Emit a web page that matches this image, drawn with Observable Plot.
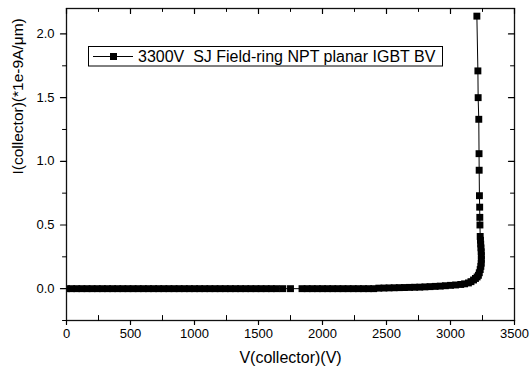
<!DOCTYPE html>
<html><head><meta charset="utf-8">
<script src="https://cdn.jsdelivr.net/npm/d3@7"></script>
<script src="https://cdn.jsdelivr.net/npm/@observablehq/plot@0.6"></script>
<style>body{margin:0;background:#fff} #chart{width:530px;height:372px}</style>
</head><body><div id="chart"></div>
<script>
const vCollector = [
  0, 40, 80, 120, 160, 200, 240, 280, 320, 360, 400, 440, 480, 520, 560, 600, 640, 680, 720, 760,
  800, 840, 880, 920, 960, 1000, 1040, 1080, 1120, 1160, 1200, 1240, 1280, 1320, 1360, 1400, 1440, 1480, 1520, 1560,
  1600, 1640, 1690, 1750, 1840, 1880, 1920, 1960, 2000, 2040, 2080, 2120, 2160, 2200, 2240, 2280, 2320, 2360, 2400,
  2440, 2480, 2520, 2560, 2600, 2640, 2680, 2720, 2760, 2800, 2840, 2880, 2920, 2960, 3000, 3040, 3080,
  3110, 3140, 3160, 3180, 3195, 3208, 3218,
  3225, 3232, 3237, 3240, 3241, 3241, 3240, 3238, 3236, 3234, 3232,
  3230, 3229, 3228, 3226, 3224, 3223, 3221, 3216, 3214, 3206
];
const iCollector = [
  0, 0, 0, 0, 0, 0, 0, 0, 0, 0, 0, 0, 0, 0, 0, 0, 0, 0, 0, 0,
  0, 0, 0, 0, 0, 0, 0, 0, 0, 0, 0, 0, 0, 0, 0, 0, 0, 0, 0, 0,
  0, 0, 0, 0, 0, 0, 0, 0, 0, 0, 0, 0, 0, 0, 0, 0, 0, 0, 0,
  0.004, 0.005, 0.006, 0.007, 0.008, 0.009, 0.010, 0.011, 0.012, 0.014, 0.016, 0.018, 0.020, 0.023, 0.026, 0.029, 0.033,
  0.038, 0.045, 0.055, 0.068, 0.080, 0.092, 0.105,
  0.125, 0.15, 0.175, 0.20, 0.23, 0.26, 0.29, 0.32, 0.35, 0.38, 0.41,
  0.50, 0.56, 0.64, 0.73, 0.93, 1.06, 1.33, 1.50, 1.71, 2.14
];
const xMajorTicks = [0, 500, 1000, 1500, 2000, 2500, 3000, 3500];
const xMinorTicks = [250, 750, 1250, 1750, 2250, 2750, 3250];
const yMajorTicks = [0, 0.5, 1.0, 1.5, 2.0];
const yMinorTicks = [-0.25, 0.25, 0.75, 1.25, 1.75];
const seriesName = "3300V  SJ Field-ring NPT planar IGBT BV";
const xLabel = "V(collector)(V)";
const yLabel = "I(collector)(*1e-9A/\u03bcm)";

const data = vCollector.map((v, k) => ({v, i: iCollector[k]}));
const font = "'Liberation Sans', Arial, sans-serif";
const tick = {draw(context, l) { context.moveTo(0, 0); context.lineTo(0, -l); }};

const chart = Plot.plot({
  width: 530, height: 372,
  marginTop: 8, marginRight: 16, marginBottom: 52, marginLeft: 66,
  style: {fontFamily: font, fontSize: "13px", color: "#000", background: "#fff"},
  x: {domain: [0, 3500], axis: null},
  y: {domain: [-0.25, 2.2], axis: null},
  marks: [
    Plot.line(data, {x: "v", y: "i", stroke: "#000", strokeWidth: 1, clip: true}),
    Plot.dot(data, {x: "v", y: "i", symbol: "square", r: 3.9, fill: "#000", stroke: "none", clip: true}),
    Plot.frame({stroke: "#111", strokeWidth: 1.3}),
    // bottom axis
    Plot.vector(xMajorTicks, {x: d => d, frameAnchor: "bottom", length: 4, rotate: 180, anchor: "start", shape: tick, stroke: "#000", strokeWidth: 1.2}),
    Plot.vector(xMinorTicks, {x: d => d, frameAnchor: "bottom", length: 5, rotate: 0, anchor: "start", shape: tick, stroke: "#000", strokeWidth: 1}),
    Plot.text(xMajorTicks, {x: d => d, text: d => String(d), frameAnchor: "bottom", dy: 17, fontSize: 13, fill: "#000"}),
    // top mirror
    Plot.vector(xMajorTicks, {x: d => d, frameAnchor: "top", length: 5, rotate: 180, anchor: "start", shape: tick, stroke: "#000", strokeWidth: 1.2}),
    Plot.vector(xMinorTicks, {x: d => d, frameAnchor: "top", length: 3, rotate: 180, anchor: "start", shape: tick, stroke: "#000", strokeWidth: 1}),
    // left axis
    Plot.vector(yMajorTicks, {y: d => d, frameAnchor: "left", length: 6, rotate: -90, anchor: "start", shape: tick, stroke: "#000", strokeWidth: 1.2}),
    Plot.vector(yMinorTicks, {y: d => d, frameAnchor: "left", length: 4, rotate: -90, anchor: "start", shape: tick, stroke: "#000", strokeWidth: 1}),
    Plot.text(yMajorTicks, {y: d => d, text: d => d.toFixed(1), frameAnchor: "left", dx: -12, textAnchor: "end", fontSize: 13, fill: "#000"}),
    // right mirror
    Plot.vector(yMajorTicks, {y: d => d, frameAnchor: "right", length: 6, rotate: -90, anchor: "start", shape: tick, stroke: "#000", strokeWidth: 1.2}),
    Plot.vector(yMinorTicks, {y: d => d, frameAnchor: "right", length: 4, rotate: -90, anchor: "start", shape: tick, stroke: "#000", strokeWidth: 1}),
    // axis titles
    Plot.text([xLabel], {text: d => d, frameAnchor: "bottom", dy: 42, fontSize: 16, fill: "#000"}),
    Plot.text([yLabel], {text: d => d, frameAnchor: "left", rotate: -90, dx: -48, dy: 10, fontSize: 15.5, fill: "#000"})
  ]
});

// legend box
const svg = d3.select(chart);
const g = svg.append("g").attr("font-family", font).attr("text-anchor", "start");
g.append("rect").attr("x", 88.5).attr("y", 46.5).attr("width", 354).attr("height", 19.5)
  .attr("fill", "#fff").attr("stroke", "#000").attr("stroke-width", 1);
g.append("line").attr("x1", 93).attr("x2", 133).attr("y1", 56.5).attr("y2", 56.5).attr("stroke", "#000").attr("stroke-width", 1);
g.append("rect").attr("x", 110).attr("y", 53).attr("width", 7).attr("height", 7).attr("fill", "#000");
g.append("text").attr("x", 138).attr("y", 62).attr("font-size", 16).attr("fill", "#000")
  .attr("text-anchor", "start").style("white-space", "pre").text(seriesName);

document.getElementById("chart").appendChild(chart);
</script></body></html>
